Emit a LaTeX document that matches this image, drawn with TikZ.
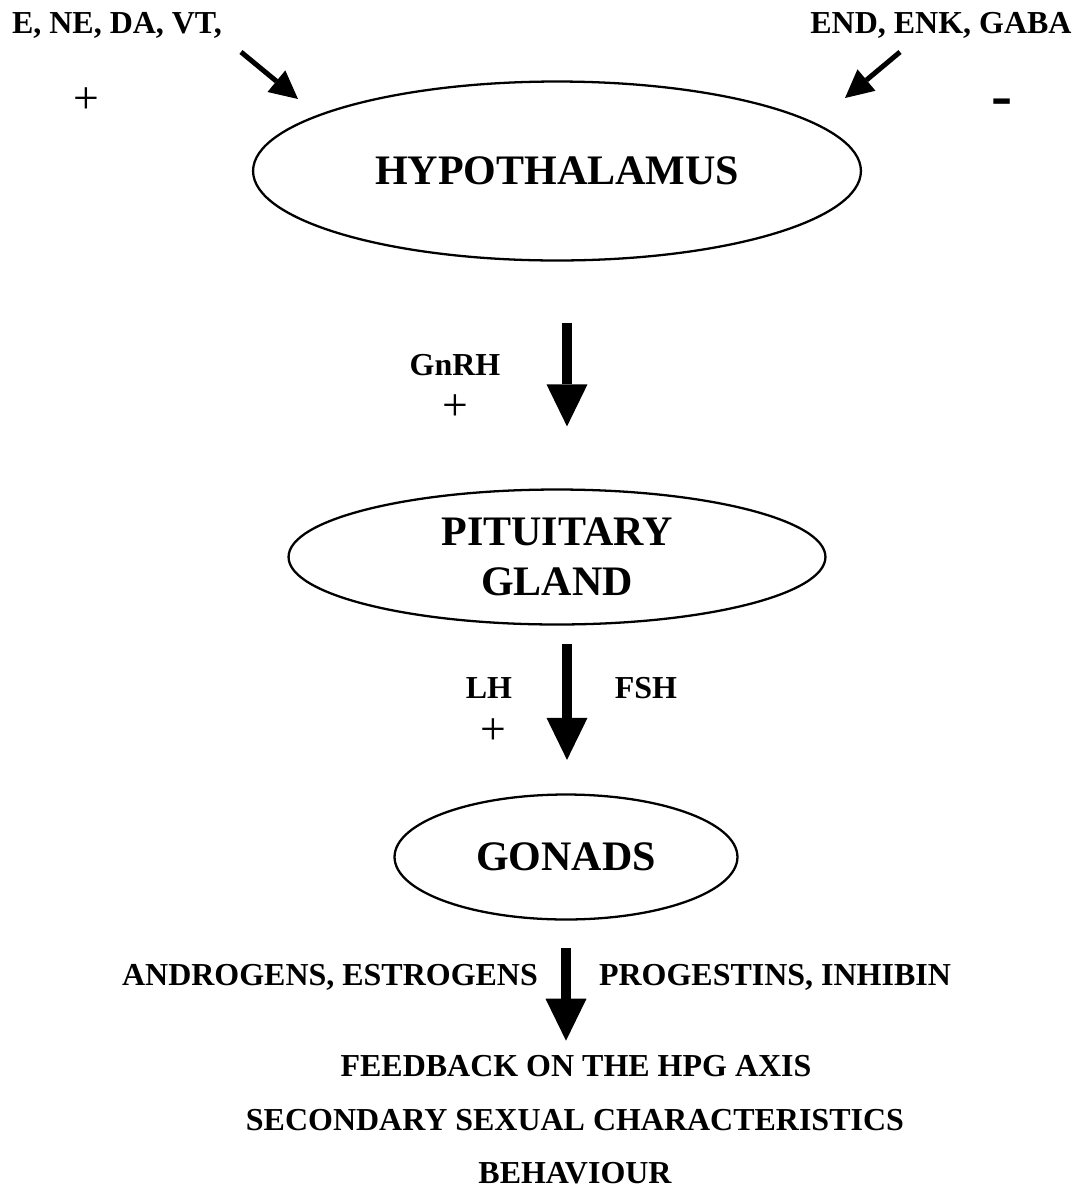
\documentclass[tikz,border=0pt]{standalone}
\usepackage{fontspec}
\setmainfont{Liberation Serif}
\usetikzlibrary{shapes.geometric, arrows.meta}

\begin{document}
\begin{tikzpicture}[x=0.02cm, y=-0.02cm,
    organ/.style={ellipse, draw, line width=1.3pt, inner sep=0pt, align=center, font=\fontsize{23.9}{28.5}\selectfont\bfseries},
    hormone/.style={inner sep=1pt, anchor=base, font=\fontsize{18.2}{22}\selectfont\bfseries},
    sign/.style={inner sep=0pt, font=\fontsize{26}{30}\selectfont},
    bigarrow/.style={line width=0.2cm, -{Triangle[width=0.82cm, length=0.84cm, line width=0pt]}},
    smallarrow/.style={line width=0.1cm, -{Triangle[width=0.56cm, length=0.56cm, line width=0pt]}}
]
    \useasboundingbox (0,0) rectangle (1081,1188);

    % Axis - the three glands
    \node[organ, minimum width=12.16cm, minimum height=3.58cm] (hyp) at (557,171) {HYPOTHALAMUS};
    \node[organ, minimum width=10.74cm, minimum height=2.7cm] (pit) at (557,557) {PITUITARY\\GLAND};
    \node[organ, minimum width=6.86cm, minimum height=2.5cm] (gon) at (566,857) {GONADS};

    % Inputs to the hypothalamus
    \node[hormone] (stim) at (117,33) {E, NE, DA, VT,};
    \node[hormone] (inhib) at (941,33) {END, ENK, GABA};
    \node[sign] (stimsign) at (86,101) {+};
    \node[sign, font=\fontsize{36}{40}\selectfont\bfseries] (inhibsign) at (1002,108) {-};
    \coordinate (stimtail) at (241,52);
    \coordinate (stimtip) at (298,99);
    \coordinate (inhibtail) at (900,52);
    \coordinate (inhibtip) at (845,98);
    \draw[smallarrow] (stimtail) -- (stimtip);
    \draw[smallarrow] (inhibtail) -- (inhibtip);

    % Hypothalamus to pituitary
    \draw[bigarrow] ([shift={(10,61)}]hyp.south) -- ([shift={(10,-62)}]pit.north);
    \node[hormone] (gnrh) at (455,375) {GnRH};
    \node[sign] (gnrhsign) at (455,408) {+};

    % Pituitary to gonads
    \draw[bigarrow] ([shift={(10,18.5)}]pit.south) -- ([shift={(1,-33.5)}]gon.north);
    \node[hormone] (lh) at (489,698) {LH};
    \node[sign] (lhsign) at (493,732) {+};
    \node[hormone] (fsh) at (646,698) {FSH};

    % Gonadal steroids and their effects
    \node[hormone] (andro) at (330,985) {ANDROGENS, ESTROGENS};
    \node[hormone] (proges) at (775,985) {PROGESTINS, INHIBIN};
    \node[hormone] (feedback) at (576,1076) {FEEDBACK ON THE HPG AXIS};
    \node[hormone] (sexchar) at (575,1130) {SECONDARY SEXUAL CHARACTERISTICS};
    \node[hormone] (behav) at (575,1183) {BEHAVIOUR};
    \draw[bigarrow] ([shift={(0,27.5)}]gon.south) -- ([shift={(-10,-12)}]feedback.north);

\end{tikzpicture}
\end{document}
